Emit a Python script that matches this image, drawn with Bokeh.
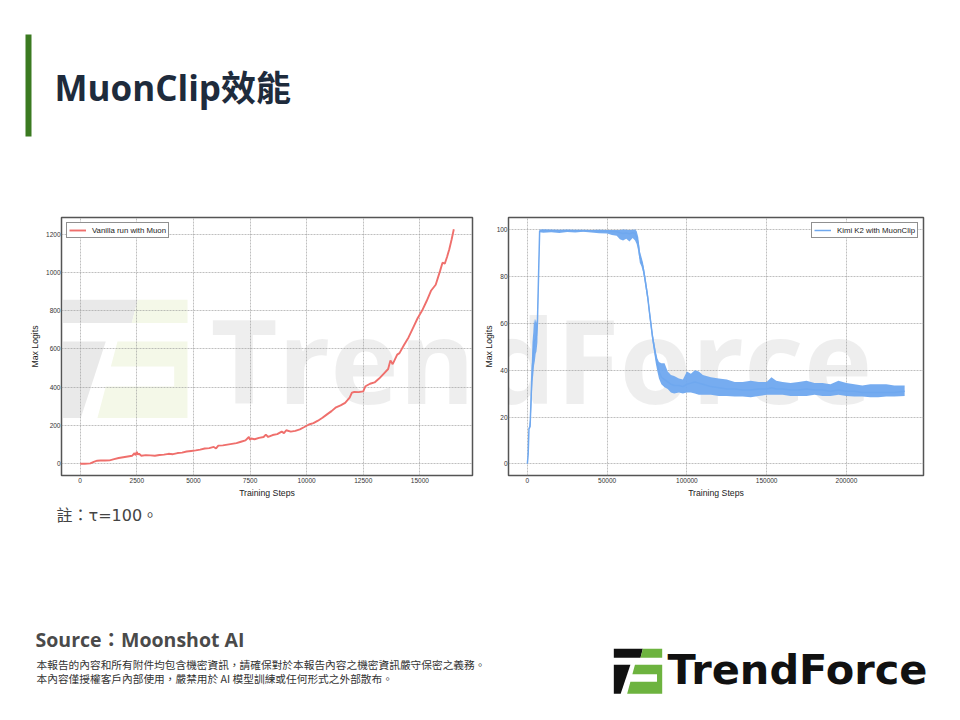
from bokeh.plotting import figure
from bokeh.layouts import column, row
from bokeh.models import (Range1d, Label, BoxAnnotation, PolyAnnotation,
                          FixedTicker, BasicTickFormatter)
from bokeh.embed import file_html
from bokeh.resources import INLINE

# ---------------- data ----------------
vanilla_steps = [0, 200, 450, 600, 750, 900, 1100, 1300, 1500, 1700, 1900, 2100, 2300, 2400,
                 2450, 2500, 2550, 2600, 2700, 2900, 3100, 3300, 3500, 3700, 3900, 4100, 4300,
                 4500, 4700, 4900, 5100, 5300, 5500, 5700, 5900, 6000, 6100, 6300, 6500, 6700,
                 6900, 7100, 7300, 7450, 7500, 7550, 7700, 7900, 8100, 8200, 8300, 8500, 8700,
                 8900, 9000, 9100, 9300, 9500, 9700, 9900, 10100, 10300, 10500, 10700, 10900,
                 11100, 11300, 11500, 11700, 11900, 12000, 12100, 12300, 12500, 12600, 12800,
                 13000, 13200, 13400, 13600, 13700, 13800, 13900, 14000, 14100, 14300, 14500,
                 14700, 14900, 15100, 15300, 15500, 15700, 15900, 16000, 16100, 16200, 16300,
                 16400, 16500]
vanilla_logits = [0, 0, 2, 10, 16, 17, 17, 18, 24, 30, 34, 38, 42, 55,
                  45, 62, 48, 52, 42, 45, 44, 42, 46, 48, 52, 50, 56,
                  58, 64, 67, 70, 74, 80, 82, 88, 80, 95, 96, 100, 104,
                  108, 115, 122, 140, 125, 132, 128, 135, 140, 152, 140, 150, 155,
                  168, 160, 175, 168, 172, 180, 192, 205, 212, 225, 240, 258,
                  275, 295, 305, 318, 345, 372, 375, 374, 378, 405, 418,
                  425, 445, 470, 495, 540, 520, 545, 570, 578, 620, 660,
                  710, 760, 800, 850, 905, 935, 1010, 1050, 1045, 1080, 1120,
                  1170, 1225]

kimi_steps = [0, 500, 1000, 1700, 2200, 2700, 3200, 3700, 4200, 4700, 5200, 5700, 6300, 7000,
              7700, 10000, 15000, 20000, 25000, 30000, 35000, 40000, 45000, 50000, 53000,
              56000, 58000, 60000, 62000, 64000, 66000, 67500, 68500, 69500, 70500, 71500,
              72500, 73500, 74500, 75500, 76500, 77500, 78500, 79500, 80500, 81500, 82500,
              84000, 86000, 88000, 90000, 92000, 95000, 97500, 100000, 102500, 105000, 107500,
              110000, 115000, 120000, 125000, 130000, 135000, 140000, 145000, 150000, 153000,
              156000, 160000, 165000, 170000, 175000, 180000, 185000, 190000, 195000, 200000,
              205000, 210000, 215000, 220000, 225000, 230000, 236500]
kimi_mid = [0, 4, 15, 16, 25, 35, 42, 46, 52, 53, 53, 55, 60, 80,
            99.5, 99.6, 99.7, 99.6, 99.7, 99.6, 99.7, 99.6, 99.5, 99.4, 99.3,
            99.2, 98.8, 98.5, 98.7, 98.3, 98.8, 98.5, 97, 94, 88.5, 86.5,
            84, 80, 75.5, 71, 65, 59.5, 54, 50, 46, 42.5, 39.5,
            37, 36, 35, 34, 33.5, 33.5, 33, 34, 34.5, 35, 34.5,
            34, 33, 32.5, 32, 32, 31.5, 31.5, 32, 32, 32.5,
            32, 32, 31.5, 31.5, 32, 31.5, 31.5, 31, 31.5, 31,
            31, 30.5, 30.5, 30.5, 30.5, 30.5, 31]
kimi_low = [0, 4, 15, 15, 20, 28, 35, 38, 42, 44, 47, 48, 52, 78,
            99.0, 98.8, 99.0, 98.7, 99.1, 98.9, 99.2, 98.9, 98.6, 98.5, 97.8,
            97.5, 96.0, 95.5, 96.2, 95.0, 96.5, 95.5, 94, 91, 86, 84.5,
            82, 78, 73.5, 69, 63, 57.5, 52, 47.5, 43, 39.5, 36.5,
            34, 32.7, 32, 30.5, 30, 30.5, 30, 30.5, 30.5, 30, 29.5,
            29.5, 29.5, 29, 29, 28.8, 28.8, 28.5, 29, 29.5, 29.5,
            29.5, 29.5, 29, 29, 29, 29.5, 29, 29, 29.5, 29,
            28.8, 28.8, 28.5, 28.5, 28.8, 28.8, 29]
kimi_high = [0, 4, 15, 19, 30, 42, 52, 56, 62, 60, 62, 60, 63, 82,
             100.2, 100.3, 100.2, 100.1, 100.2, 100.1, 100.1, 100.0, 100.1, 100.0, 100.0,
             100.0, 100.0, 100.2, 100.1, 100.0, 100.1, 100.2, 99.5, 97, 91, 88.5,
             86, 82, 77.5, 73, 67, 61.5, 56, 52, 48, 45, 43.5,
             43, 43, 39.5, 38, 37.5, 36.5, 36, 39.5, 38.5, 40, 39.5,
             38, 37, 36.5, 36, 35, 35, 35.5, 35, 35, 37,
             35.5, 35, 34.5, 35, 35.5, 34.5, 34.5, 34, 35.5, 34.5,
             34, 33.5, 34, 34, 34, 33.5, 33.5]

vanilla_xticks = [0, 2500, 5000, 7500, 10000, 12500, 15000]
vanilla_yticks = [0, 200, 400, 600, 800, 1000, 1200]
kimi_xticks = [0, 50000, 100000, 150000, 200000]
kimi_yticks = [0, 20, 40, 60, 80, 100]

RED = "#ef6f6c"
BLUE = "#6fa8ef"
AX_FONT = "Liberation Sans"
TITLE_FONT = "'Open Sans', 'Noto Sans CJK TC'"
NOTE_FONT = "'DejaVu Sans', 'Noto Sans CJK TC'"
CJK_FONT = "'Noto Sans CJK TC'"

# normalized TrendForce icon (u right, v down), bbox 0..1
ICON = {
    "dark_top": [(0, 0), (0.600, 0), (0.552, 0.197), (0, 0.197)],
    "green_top": [(0.600, 0), (1, 0), (1, 0.197), (0.552, 0.197)],
    "dark_low": [(0, 0.352), (0.343, 0.352), (0.142, 1), (0, 1)],
    "green_low": [(0.437, 0.352), (1, 0.352), (1, 1), (0.276, 1), (0.343, 0.732),
                  (0.893, 0.732), (0.893, 0.563), (0.384, 0.563)],
}


def padded(vals):
    lo, hi = min(vals), max(vals)
    pad = 0.05 * (hi - lo)
    return Range1d(lo - pad, hi + pad)


def style_chart(p, xticks, yticks, ylabel_standoff):
    p.background_fill_color = "white"
    p.border_fill_color = "white"
    p.outline_line_color = "#555555"
    p.outline_line_width = 1.5
    for ax in (p.xaxis[0], p.yaxis[0]):
        ax.axis_line_color = None
        ax.major_tick_out = 0
        ax.major_tick_in = 0
        ax.minor_tick_out = 0
        ax.minor_tick_in = 0
        ax.major_label_text_font = AX_FONT
        ax.major_label_text_font_size = "6.5px"
        ax.major_label_text_color = "#333333"
        ax.major_label_standoff = 2
        ax.axis_label_text_font = AX_FONT
        ax.axis_label_text_font_size = "8.7px"
        ax.axis_label_text_font_style = "normal"
        ax.axis_label_text_color = "#222222"
        ax.formatter = BasicTickFormatter(use_scientific=False)
    p.xaxis[0].ticker = FixedTicker(ticks=xticks)
    p.yaxis[0].ticker = FixedTicker(ticks=yticks)
    p.xaxis[0].axis_label = "Training Steps"
    p.yaxis[0].axis_label = "Max Logits"
    p.xaxis[0].axis_label_standoff = 2
    p.yaxis[0].axis_label_standoff = ylabel_standoff
    p.yaxis[0].major_label_standoff = 1
    for g in (p.xgrid[0], p.ygrid[0]):
        g.grid_line_color = "#9a9a9a"
        g.grid_line_dash = "2 1"
        g.grid_line_width = 0.8
        g.grid_line_alpha = 0.8


def style_legend(p, loc):
    lg = p.legend[0]
    lg.location = loc
    lg.margin = 5
    lg.padding = 2
    lg.spacing = 0
    lg.label_text_font = AX_FONT
    lg.label_text_font_size = "7.8px"
    lg.label_text_color = "#222222"
    lg.label_height = 10
    lg.glyph_height = 10
    lg.glyph_width = 17
    lg.label_standoff = 6
    lg.border_line_color = "#222222"
    lg.border_line_width = 1
    lg.background_fill_alpha = 1


def add_icon(p, x0, y0, w, h, dark, green, units="data", flip=True, level="annotation"):
    for key, col in (("dark_top", dark), ("green_top", green),
                     ("dark_low", dark), ("green_low", green)):
        xs = [x0 + u * w for u, v in ICON[key]]
        if flip:
            ys = [y0 - v * h for u, v in ICON[key]]
        else:
            ys = [y0 + v * h for u, v in ICON[key]]
        p.add_layout(PolyAnnotation(xs=xs, ys=ys, xs_units=units, ys_units=units,
                                    fill_color=col, fill_alpha=1, line_color=None,
                                    level=level))


# ---------------- header (page px 0..952 x 0..208) ----------------
header = figure(width=952, height=208, x_range=Range1d(0, 952), y_range=Range1d(208, 0),
                toolbar_location=None, output_backend="svg", min_border=0,
                x_axis_location=None, y_axis_location=None)
header.grid.visible = False
header.outline_line_color = None
header.add_layout(BoxAnnotation(left=25, right=31, top=34, bottom=136,
                                fill_color="#3b7a21", fill_alpha=1, line_color=None))
header.add_layout(Label(x=54, y=87, text="MuonClip效能", text_font=TITLE_FONT,
                        text_font_size="35px", text_font_style="bold",
                        text_color="#1e2b3c", text_baseline="middle"))

# ---------------- left chart ----------------
left = figure(width=480, height=292, toolbar_location=None, output_backend="svg",
              x_range=padded(vanilla_steps), y_range=padded(vanilla_logits),
              min_border_left=61, min_border_right=8, min_border_top=9, min_border_bottom=24)
style_chart(left, vanilla_xticks, vanilla_yticks, 3)
# watermark (screen units, relative to frame, y up)
add_icon(left, 1.6, 175.7, 124.4, 118.3, "#e9e9e9", "#f4f8e8", units="screen",
         flip=True, level="image")
left.add_layout(Label(x=149, y=117, x_units="screen", y_units="screen", text="Tren",
                      text_font="Open Sans", text_font_size="116px", text_font_style="bold",
                      text_color="#000000", text_alpha=0.065, text_baseline="middle",
                      level="image"))
left.line(vanilla_steps, vanilla_logits, line_color=RED, line_width=1.9,
          legend_label="Vanilla run with Muon")
style_legend(left, "top_left")

# ---------------- right chart ----------------
right = figure(width=472, height=292, toolbar_location=None, output_backend="svg",
               x_range=padded(kimi_steps), y_range=padded(kimi_low + kimi_high),
               min_border_left=28, min_border_right=29, min_border_top=9, min_border_bottom=24)
style_chart(right, kimi_xticks, kimi_yticks, 0)
right.add_layout(Label(x=-26, y=117, x_units="screen", y_units="screen", text="dForce",
                       text_font="Open Sans", text_font_size="116px", text_font_style="bold",
                       text_color="#000000", text_alpha=0.065, text_baseline="middle",
                       level="image"))
right.varea(x=kimi_steps, y1=kimi_low, y2=kimi_high, fill_color=BLUE, fill_alpha=0.95)
right.line(kimi_steps, kimi_mid, line_color=BLUE, line_width=1.5,
           legend_label="Kimi K2 with MuonClip")
style_legend(right, "top_right")

# ---------------- footer (page px 0..952 x 500..712) ----------------
footer = figure(width=952, height=212, x_range=Range1d(0, 952), y_range=Range1d(712, 500),
                toolbar_location=None, output_backend="svg", min_border=0,
                x_axis_location=None, y_axis_location=None)
footer.grid.visible = False
footer.outline_line_color = None
footer.add_layout(Label(x=56, y=515, text="註：τ=100。", text_font=NOTE_FONT,
                        text_font_size="16px", text_color="#444444", text_baseline="middle"))
footer.add_layout(Label(x=35, y=638.5, text="Source：Moonshot AI", text_font=TITLE_FONT,
                        text_font_size="19.5px", text_font_style="bold",
                        text_color="#4a4a4a", text_baseline="middle"))
footer.add_layout(Label(x=36, y=663.5,
                        text="本報告的內容和所有附件均包含機密資訊，請確保對於本報告內容之機密資訊嚴守保密之義務。",
                        text_font=CJK_FONT, text_font_size="10.7px", text_color="#333333",
                        text_baseline="middle"))
footer.add_layout(Label(x=36, y=677.5,
                        text="本內容僅授權客戶內部使用，嚴禁用於 AI 模型訓練或任何形式之外部散布。",
                        text_font=CJK_FONT, text_font_size="10.7px", text_color="#333333",
                        text_baseline="middle"))
# logo
add_icon(footer, 613.3, 648.3, 48.4, 45, "#111111", "#6db33f", units="data", flip=False)
footer.add_layout(Label(x=667, y=669, text="TrendForce", text_font="DejaVu Sans",
                        text_font_size="41.5px", text_font_style="bold", text_color="#111111",
                        text_baseline="middle"))

layout = column(header, row(left, right), footer)
open("out.html", "w").write(file_html(layout, INLINE))
